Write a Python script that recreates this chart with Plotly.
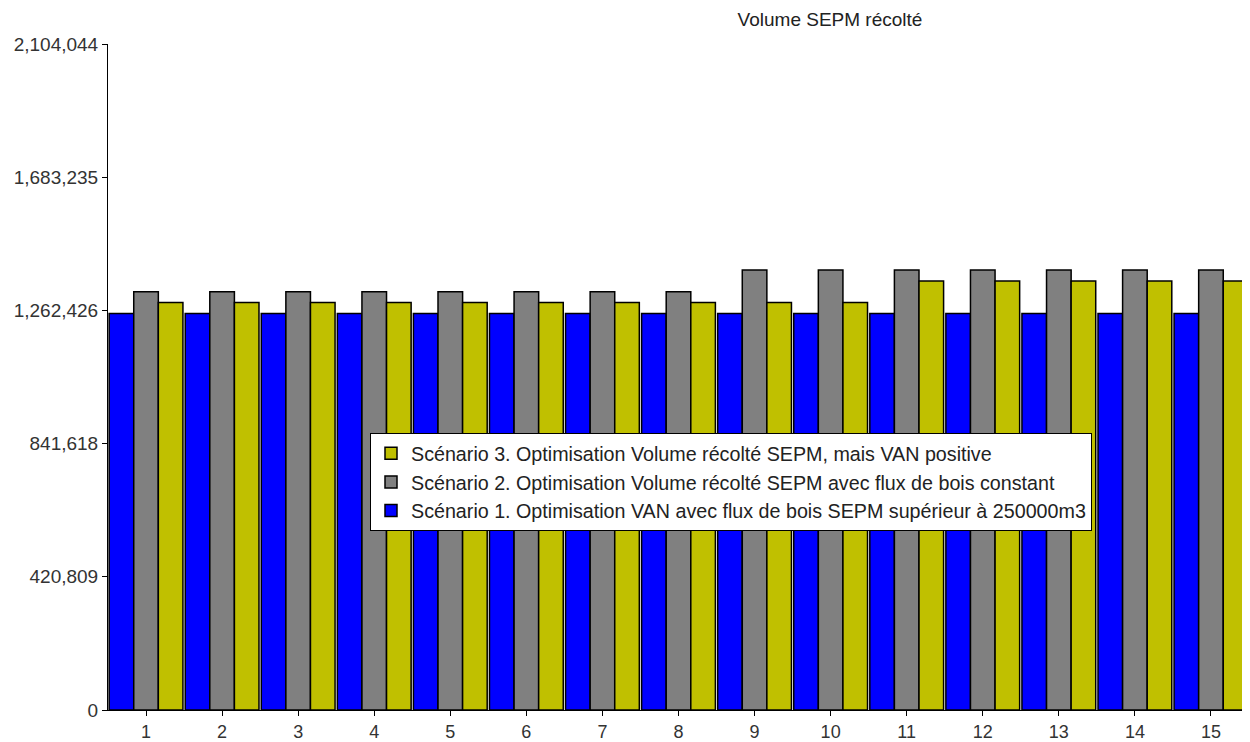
import plotly.graph_objects as go

categories = [str(i) for i in range(1, 16)]
scenario1 = [1253000] * 15
scenario2 = [1321500] * 8 + [1390000] * 7
scenario3 = [1287000] * 10 + [1355000] * 5

names = [
    "Scénario 1. Optimisation VAN avec flux de bois SEPM supérieur à 250000m3",
    "Scénario 2. Optimisation Volume récolté SEPM avec flux de bois constant",
    "Scénario 3. Optimisation Volume récolté SEPM, mais VAN positive",
]
colors = ["#0000FF", "#808080", "#C0C000"]
series = [scenario1, scenario2, scenario3]
ranks = [3, 2, 1]

ymax = 2104044
tickvals = [ymax * i / 5 for i in range(6)]
ticktext = ["0", "420,809", "841,618", "1,262,426", "1,683,235", "2,104,044"]

W, H = 1242, 734
L, R, T, B = 100, 1, 36, 32
pw, ph = W - L - R, H - T - B

fig = go.Figure()
for i, (n, c, s) in enumerate(zip(names, colors, series)):
    fig.add_trace(go.Bar(
        x=categories, y=s, name=n, legendrank=ranks[i],
        marker=dict(color=c, line=dict(color="black", width=1.5)),
    ))

fig.update_layout(
    width=W, height=H,
    margin=dict(l=L, r=R, t=T, b=B),
    plot_bgcolor="white", paper_bgcolor="white",
    barmode="group", bargap=0.03, bargroupgap=0,
    font=dict(family="Liberation Sans, Arial, sans-serif", size=18, color="#333"),
    title=dict(text="Volume SEPM récolté", x=822 / W, xanchor="center",
               yref="container", y=1 - 11 / H, yanchor="middle",
               font=dict(size=19, color="#222")),
    xaxis=dict(type="category", range=[-0.5, 14.5], showline=True, linecolor="black",
               linewidth=1, ticks="outside", ticklen=5, tickcolor="black",
               showgrid=False, tickfont=dict(size=18)),
    yaxis=dict(range=[0, ymax], tickvals=tickvals, ticktext=ticktext, showline=True,
               linecolor="black", linewidth=1, ticks="outside", ticklen=5,
               tickcolor="black", showgrid=False, zeroline=False,
               tickfont=dict(size=19)),
    legend=dict(x=(362 - L) / pw, xanchor="left", y=(T + ph - 425) / ph, yanchor="top",
                bgcolor="white", bordercolor="black", borderwidth=1,
                tracegroupgap=0,
                font=dict(size=19.7, color="#222")),
    showlegend=True,
)

fig.write_html("out.html")
